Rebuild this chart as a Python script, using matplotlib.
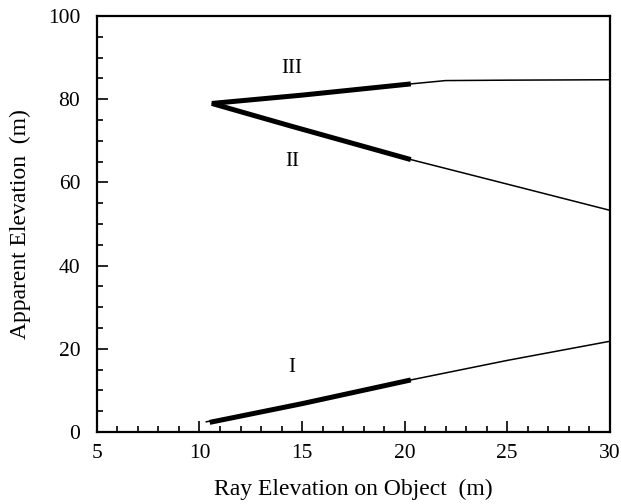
import matplotlib

matplotlib.use("Agg")
import matplotlib.pyplot as plt
from matplotlib.ticker import MultipleLocator

plt.rcParams["font.family"] = ["Liberation Serif", "DejaVu Serif"]

# Branch I (lower)
x1_thin = [10.3, 15.0, 20.3, 25.0, 30.0]
y1_thin = [2.4, 6.8, 12.5, 17.2, 21.8]
x1_thick = [10.5, 15.0, 20.3]
y1_thick = [2.3, 6.8, 12.5]

# Branch II (middle, falling)
x2_thin = [10.6, 14.5, 20.3, 25.0, 30.0]
y2_thin = [79.0, 73.5, 65.5, 59.6, 53.3]
x2_thick = [10.6, 14.5, 20.3]
y2_thick = [79.0, 73.5, 65.5]

# Branch III (upper, flattening)
x3_thin = [10.6, 15.0, 20.3, 22.0, 25.0, 30.0]
y3_thin = [79.0, 81.0, 83.7, 84.5, 84.6, 84.7]
x3_thick = [10.6, 15.0, 20.3]
y3_thick = [79.0, 81.0, 83.7]

labels = ["I", "II", "III"]
label_x = [14.5, 14.5, 14.5]
label_y = [15.5, 65.0, 87.5]

fig, ax = plt.subplots(figsize=(6.21, 5.04), dpi=100)
fig.subplots_adjust(left=0.156, right=0.982, top=0.968, bottom=0.143)

for xt, yt, xk, yk in [(x1_thin, y1_thin, x1_thick, y1_thick),
                       (x2_thin, y2_thin, x2_thick, y2_thick),
                       (x3_thin, y3_thin, x3_thick, y3_thick)]:
    ax.plot(xt, yt, color="black", lw=1.1, solid_capstyle="butt")
    ax.plot(xk, yk, color="black", lw=3.6, solid_capstyle="butt")

for lab, lx, ly in zip(labels, label_x, label_y):
    ax.text(lx, ly, lab, ha="center", va="center", fontsize=15)

ax.set_xlim(5, 30)
ax.set_ylim(0, 100)
ax.xaxis.set_major_locator(MultipleLocator(5))
ax.xaxis.set_minor_locator(MultipleLocator(1))
ax.yaxis.set_major_locator(MultipleLocator(20))
ax.yaxis.set_minor_locator(MultipleLocator(5))
ax.tick_params(which="both", direction="in", top=False, right=False,
               width=1.2, labelsize=15.5)
ax.tick_params(axis="y", which="major", length=8, pad=12)
ax.tick_params(axis="x", which="major", length=8, pad=9)
ax.tick_params(which="minor", length=4)
for s in ax.spines.values():
    s.set_linewidth(1.6)

ax.set_xlabel("Ray Elevation on Object  (m)", fontsize=17, labelpad=11)
ax.set_ylabel("Apparent Elevation  (m)", fontsize=17, labelpad=12)

fig.savefig("out.png", dpi=100)
